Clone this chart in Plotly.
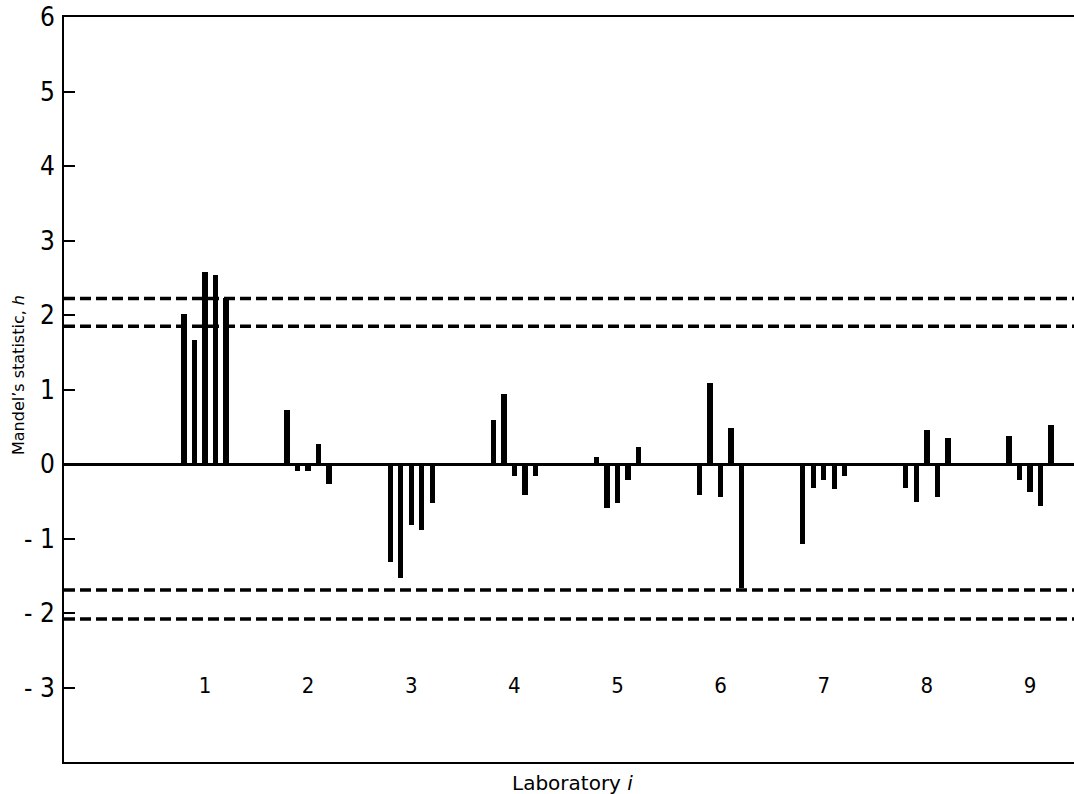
import plotly.graph_objects as go

labs = [1, 2, 3, 4, 5, 6, 7, 8, 9]
h_values = [
    [2.01, 1.66, 2.58, 2.54, 2.23],
    [0.72, -0.09, -0.09, 0.27, -0.27],
    [-1.32, -1.53, -0.82, -0.88, -0.52],
    [0.59, 0.94, -0.16, -0.41, -0.16],
    [0.09, -0.59, -0.53, -0.22, 0.23],
    [-0.41, 1.09, -0.44, 0.48, -1.67],
    [-1.08, -0.32, -0.21, -0.33, -0.16],
    [-0.32, -0.51, 0.45, -0.44, 0.35],
    [0.38, -0.22, -0.38, -0.56, 0.52],
]
limits = [2.22, 1.85, -1.69, -2.08]
y_ticks = [-3, -2, -1, 0, 1, 2, 3, 4, 5, 6]
y_ticktext = ["- 3", "- 2", "- 1", "0", "1", "2", "3", "4", "5", "6"]

x_range = [-0.367, 9.427]
y_range = [-4, 6]
offsets = [-0.204, -0.102, 0.0, 0.102, 0.204]

bx, by = [], []
for lab, vals in zip(labs, h_values):
    for off, v in zip(offsets, vals):
        bx.append(lab + off)
        by.append(v)

NARROW = "Liberation Sans Narrow, DejaVu Sans Condensed, Liberation Sans, sans-serif"

fig = go.Figure()
fig.add_trace(go.Bar(x=bx, y=by, width=0.052, marker=dict(color="black", line=dict(width=0)),
                     showlegend=False, hoverinfo="x+y"))

for lim in limits:
    fig.add_trace(go.Scatter(x=x_range, y=[lim, lim], mode="lines",
                             line=dict(color="black", width=3.5, dash="11px,5px"),
                             showlegend=False, hoverinfo="y"))

fig.add_trace(go.Scatter(x=labs, y=[-3] * len(labs), mode="text",
                         text=[str(l) for l in labs],
                         textfont=dict(family=NARROW, size=22, color="black"),
                         showlegend=False, hoverinfo="skip"))

# plot area: 1010 x 745 px
fig.add_annotation(text="Mandel’s statistic, <i>h</i>", textangle=-90,
                   xref="paper", yref="paper", x=-46 / 1010, y=387 / 745,
                   xanchor="center", yanchor="middle", showarrow=False,
                   font=dict(family="DejaVu Sans", size=16, color="black"))
fig.add_annotation(text="Laboratory <i>i</i>",
                   xref="paper", yref="paper", x=508 / 1010, y=-21 / 745,
                   xanchor="center", yanchor="middle", showarrow=False,
                   font=dict(family="DejaVu Sans", size=20, color="black"))

fig.update_layout(
    width=1074, height=794,
    margin=dict(l=64, r=0, t=17, b=32, autoexpand=False),
    paper_bgcolor="white", plot_bgcolor="white",
    font=dict(family="DejaVu Sans", color="black"),
    bargap=0,
    xaxis=dict(range=x_range, showgrid=False, zeroline=False, showticklabels=False,
               ticks="", showline=True, linecolor="black", linewidth=2, mirror=True,
               automargin=False),
    yaxis=dict(range=y_range, showgrid=False, zeroline=True, zerolinecolor="black",
               zerolinewidth=2.5, tickvals=y_ticks, ticktext=y_ticktext,
               ticks="inside", ticklen=11, tickwidth=2, tickcolor="black",
               tickfont=dict(family=NARROW, size=26), ticklabelstandoff=2,
               showline=True, linecolor="black", linewidth=2, automargin=False),
)

fig.write_html("out.html", config={"displayModeBar": False},
               post_script="document.body.style.margin='0';document.body.style.overflow='hidden';")
